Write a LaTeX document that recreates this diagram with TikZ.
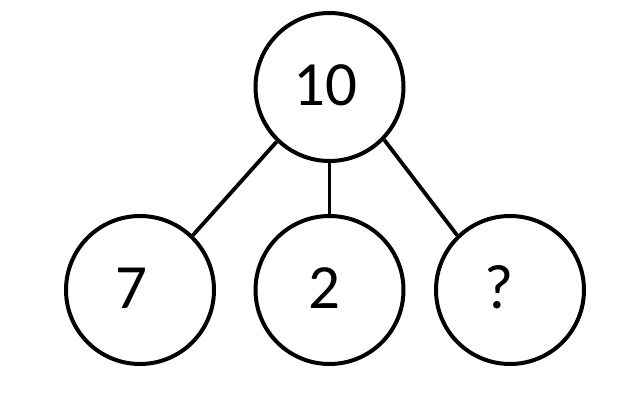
\documentclass[tikz,border=0pt]{standalone}
\usepackage{fontspec}
\setmainfont{Carlito}
\begin{document}
\begin{tikzpicture}[x=1pt,y=1pt,
  ball/.style={circle,draw=black,line width=4pt,minimum size=148pt,inner sep=0pt},
  num/.style={font=\fontsize{63}{70}\selectfont,inner sep=0pt},
  link/.style={draw=black,line width=3.8pt}]
\useasboundingbox (0,0) rectangle (640,402);
\node[ball,label={[num,xshift=-4pt,yshift=2pt]center:10}] (top) at (329.5,315) {};
\node[ball,label={[num,xshift=-9pt,yshift=2pt]center:7}] (b1) at (140,112) {};
\node[ball,label={[num,xshift=-5pt,yshift=2pt]center:2}] (b2) at (329.5,112) {};
\node[ball,label={[num,xshift=-11pt,yshift=3pt]center:?}] (b3) at (510,112) {};
\draw[link] (top.226) -- (b1.46);
\draw[link] (top.south) -- (b2.north);
\draw[link] (top.-44) -- (b3.134);
\end{tikzpicture}
\end{document}
